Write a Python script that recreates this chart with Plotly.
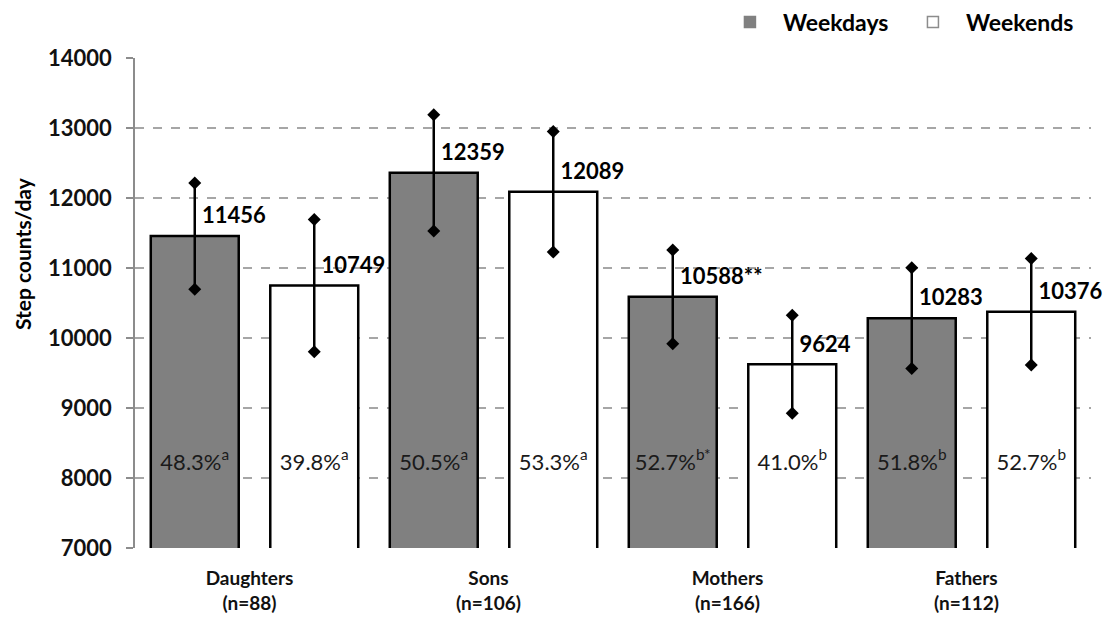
import plotly.graph_objects as go

categories = ["Daughters<br>(n=88)", "Sons<br>(n=106)", "Mothers<br>(n=166)", "Fathers<br>(n=112)"]
weekday_means = [11456, 12359, 10588, 10283]
weekend_means = [10749, 12089, 9624, 10376]
weekday_sd = [760, 830, 670, 720]
weekend_sd = [945, 862, 700, 760]
weekday_labels = ["11456", "12359", "10588**", "10283"]
weekend_labels = ["10749", "12089", "9624", "10376"]
weekday_pct = ["48.3%<sup>a</sup>", "50.5%<sup>a</sup>", "52.7%<sup>b*</sup>", "51.8%<sup>b</sup>"]
weekend_pct = ["39.8%<sup>a</sup>", "53.3%<sup>a</sup>", "41.0%<sup>b</sup>", "52.7%<sup>b</sup>"]
y_ticks = [7000, 8000, 9000, 10000, 11000, 12000, 13000, 14000]

PCT_Y = 8200
FONT = "Lato"
GRAY = "#808080"

fig = go.Figure()

series = [
    ("Weekdays", "wd", weekday_means, weekday_sd, weekday_labels, weekday_pct, GRAY, GRAY),
    ("Weekends", "we", weekend_means, weekend_sd, weekend_labels, weekend_pct, "white", "#8c8c8c"),
]

for name, grp, means, sd, labels, pct, color, lcol in series:
    fig.add_trace(go.Bar(
        name=name, x=categories, y=means, offsetgroup=grp, showlegend=False,
        marker=dict(color=color, line=dict(color="black", width=2.5)),
        error_y=dict(type="data", array=sd, visible=True, color="black", thickness=2.5, width=0),
    ))

for name, grp, means, sd, labels, pct, color, lcol in series:
    ends = [m + s for m, s in zip(means, sd)] + [m - s for m, s in zip(means, sd)]
    fig.add_trace(go.Scatter(
        x=categories + categories, y=ends, offsetgroup=grp, mode="markers",
        marker=dict(symbol="diamond", size=10, color="black"),
        showlegend=False, hoverinfo="skip", cliponaxis=False,
    ))
    fig.add_trace(go.Scatter(
        x=categories, y=means, offsetgroup=grp, mode="markers+text", text=labels,
        textposition="top right",
        marker=dict(size=10, color="rgba(0,0,0,0)"),
        textfont=dict(family=FONT, size=22, color="black", weight="bold"),
        showlegend=False, hoverinfo="skip", cliponaxis=False,
    ))
    fig.add_trace(go.Scatter(
        x=categories, y=[PCT_Y] * len(categories), offsetgroup=grp, mode="text", text=pct,
        textposition="middle center",
        textfont=dict(family=FONT, size=22, color="#1a1a1a"),
        showlegend=False, hoverinfo="skip", cliponaxis=False,
    ))
    # legend swatch
    fig.add_trace(go.Scatter(
        name=name, x=[None], y=[None], offsetgroup=grp, mode="markers",
        marker=dict(symbol="square", size=11, color=color, line=dict(color=lcol, width=1.5)),
        showlegend=True, hoverinfo="skip",
    ))

# page body has an 8px margin, so the figure is sized to fit the 1114x618 window
fig.update_layout(
    width=1106, height=610,
    margin=dict(l=127, r=23, t=50, b=70, autoexpand=False),
    paper_bgcolor="white", plot_bgcolor="white",
    barmode="group", bargap=0, bargroupgap=0.264,
    scattermode="group", scattergap=0,
    font=dict(family=FONT, color="black"),
    legend=dict(orientation="h", xref="container", yref="container",
                x=0.641, xanchor="left", y=0.977, yanchor="middle",
                font=dict(family=FONT, size=23, weight="bold"), traceorder="normal",
                itemwidth=56, entrywidth=112, bgcolor="rgba(0,0,0,0)"),
    showlegend=True,
    annotations=[dict(
        text="Step counts/day", textangle=-90, xref="paper", yref="paper",
        x=-0.1182, y=0.6, xanchor="center", yanchor="middle", showarrow=False,
        font=dict(family=FONT, size=21, weight="bold", color="black"),
    )],
)

fig.update_xaxes(
    automargin=False,
    showgrid=False, showline=False, ticks="", zeroline=False,
    ticklabelstandoff=17, ticklabelshift=-5,
    tickfont=dict(family=FONT, size=19, weight="bold", color="#111111"),
)
fig.update_yaxes(
    automargin=False,
    range=[7000, 14000], tickvals=y_ticks, tickformat="d", showgrid=True,
    gridcolor="#a6a6a6", griddash="dash", gridwidth=1.5,
    showline=True, linecolor="#8c8c8c", linewidth=1.5,
    ticks="outside", ticklen=7, tickcolor="#8c8c8c", tickwidth=1.5,
    ticklabelstandoff=10,
    zeroline=False,
    tickfont=dict(family=FONT, size=22, weight="bold", color="#111111"),
)

fig.write_html("out.html")
